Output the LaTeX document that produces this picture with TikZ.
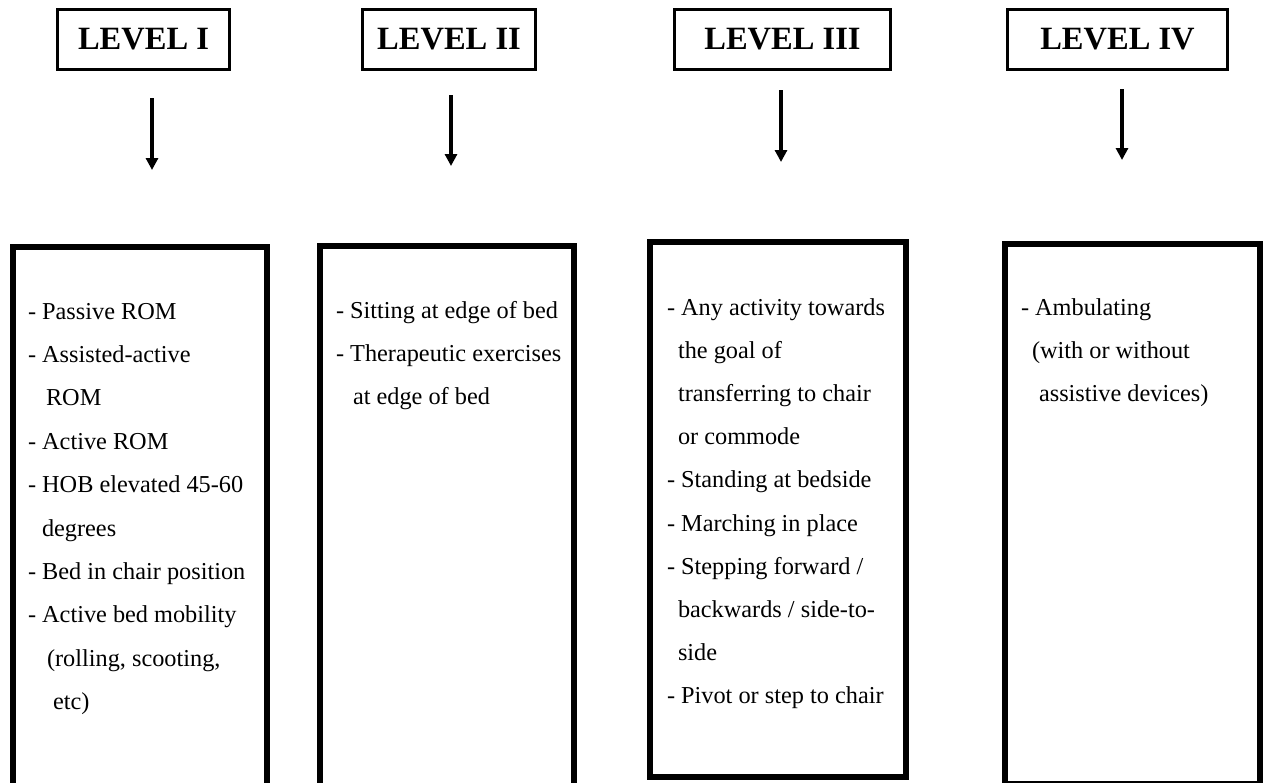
\documentclass[tikz,border=0pt]{standalone}
\usepackage{fontspec}
\setmainfont{Liberation Serif}
\usetikzlibrary{arrows.meta}
\tikzset{
  hdr/.style={draw, line width=3pt, outer sep=0pt, inner sep=0pt, minimum height=60pt,
    font=\fontsize{32.5}{36}\selectfont\bfseries},
  col/.style={draw, line width=6pt, outer sep=0pt, inner sep=0pt},
  item/.style={anchor=base west, inner sep=0pt, outer sep=0pt, font=\fontsize{24.3}{29}\selectfont},
  down/.style={line width=3.5pt, -{Triangle[width=12pt,length=12pt]}},
}
\begin{document}
\begin{tikzpicture}[x=1pt,y=-1pt]
\useasboundingbox (0,0) rectangle (1264,782);
\clip (0,0) rectangle (1264,782);
\fill[white] (0,0) rectangle (1264,782);

% headers
\node[hdr, minimum width=172pt] (h1) at (143.5,39.5) {LEVEL I};
\node[hdr, minimum width=173pt] (h2) at (449,39.5) {LEVEL II};
\node[hdr, minimum width=216pt] (h3) at (782.5,39.5) {LEVEL III};
\node[hdr, minimum width=220pt] (h4) at (1117.5,39.5) {LEVEL IV};

% arrows
\coordinate (a1t) at (152,98);   \coordinate (a1b) at (152,170);
\coordinate (a2t) at (451,95);   \coordinate (a2b) at (451,166);
\coordinate (a3t) at (781,90);   \coordinate (a3b) at (781,162);
\coordinate (a4t) at (1122,89);  \coordinate (a4b) at (1122,160);
\draw[down] (a1t) -- (a1b);
\draw[down] (a2t) -- (a2b);
\draw[down] (a3t) -- (a3b);
\draw[down] (a4t) -- (a4b);

% column boxes
\node[col, minimum width=254pt, minimum height=573pt] (b1) at (140,533.5) {};
\node[col, minimum width=254pt, minimum height=574pt] (b2) at (447,533) {};
\node[col, minimum width=256pt, minimum height=535pt] (b3) at (778,509.5) {};
\node[col, minimum width=255pt, minimum height=540pt] (b4) at (1132,514) {};

% level I text
\node[item] (t1a) at (28,319)   {- Passive ROM};
\node[item] (t1b) at (28,362.4) {- Assisted-active};
\node[item] (t1c) at (46,405.8) {ROM};
\node[item] (t1d) at (28,449.2) {- Active ROM};
\node[item] (t1e) at (28,492.6) {- HOB elevated 45-60};
\node[item] (t1f) at (42,536)   {degrees};
\node[item] (t1g) at (28,579.4) {- Bed in chair position};
\node[item] (t1h) at (28,622.8) {- Active bed mobility};
\node[item] (t1i) at (47,666.2) {(rolling, scooting,};
\node[item] (t1j) at (53,709.6) {etc)};

% level II text
\node[item] (t2a) at (336,318)   {- Sitting at edge of bed};
\node[item] (t2b) at (336,361.2) {- Therapeutic exercises};
\node[item] (t2c) at (353,404.4) {at edge of bed};

% level III text
\node[item] (t3a) at (667,315)   {- Any activity towards};
\node[item] (t3b) at (678,358.2) {the goal of};
\node[item] (t3c) at (678,401.4) {transferring to chair};
\node[item] (t3d) at (678,444.6) {or commode};
\node[item] (t3e) at (667,487.8) {- Standing at bedside};
\node[item] (t3f) at (667,531)   {- Marching in place};
\node[item] (t3g) at (667,574.2) {- Stepping forward /};
\node[item] (t3h) at (678,617.4) {backwards / side-to-};
\node[item] (t3i) at (678,660.6) {side};
\node[item] (t3j) at (667,703.8) {- Pivot or step to chair};

% level IV text
\node[item] (t4a) at (1021,315)   {- Ambulating};
\node[item] (t4b) at (1032,358.2) {(with or without};
\node[item] (t4c) at (1039,401.4) {assistive devices)};
\end{tikzpicture}
\end{document}
